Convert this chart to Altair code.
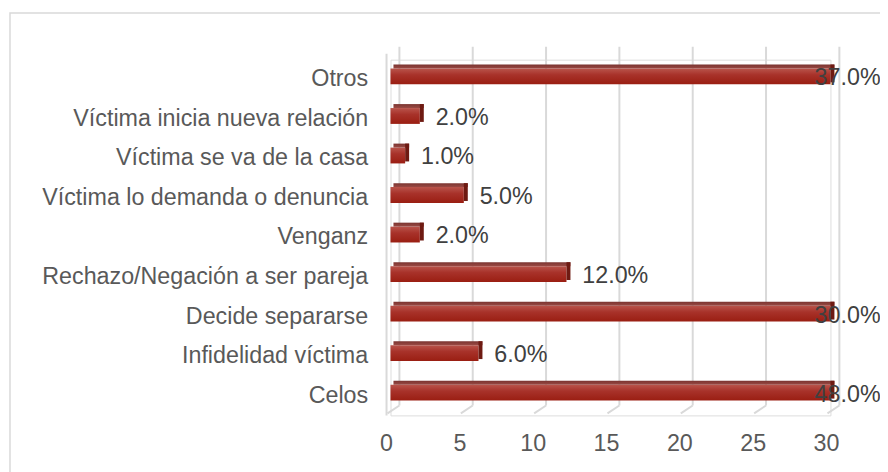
import altair as alt
import pandas as pd

categories = [
    "Otros",
    "Víctima inicia nueva relación",
    "Víctima se va de la casa",
    "Víctima lo demanda o denuncia",
    "Venganz",
    "Rechazo/Negación a ser pareja",
    "Decide separarse",
    "Infidelidad víctima",
    "Celos",
]
values = [37, 2, 1, 5, 2, 12, 30, 6, 48]
ticks = [0, 5, 10, 15, 20, 25, 30]

df = pd.DataFrame({"cat": categories, "value": values})
tick_df = pd.DataFrame({"t": ticks})
one = pd.DataFrame({"a": [1]})

FONT = "Liberation Sans"
X_MAX = 30
FS = 23.5

xscale = alt.Scale(domain=[0, X_MAX], nice=False, zero=True)
yscale = alt.Scale(domain=categories, paddingInner=0, paddingOuter=0)

xaxis = alt.Axis(
    values=ticks, domain=False, ticks=False, grid=False,
    labelPadding=16, labelFontSize=FS, labelFont=FONT, labelFlush=False,
    labelColor="#595959", labelOffset=-4.5, title=None,
)
yaxis = alt.Axis(
    domain=False, ticks=False, grid=False, labelPadding=23, labelFontSize=FS,
    labelFont=FONT, labelColor="#595959", labelLimit=400, title=None,
)


def X(field):
    return alt.X(field, scale=xscale, axis=xaxis, title=None)


def Y():
    return alt.Y("cat:N", scale=yscale, sort=categories, axis=yaxis, title=None)


border = alt.Chart(one).mark_rect(
    fillOpacity=0, stroke="#d9d9d9", strokeWidth=1.5
).encode(
    x=alt.value(-384), x2=alt.value(520), y=alt.value(-47), y2=alt.value(440)
)

grid = alt.Chart(tick_df).mark_rule(color="#d9d9d9", strokeWidth=2, xOffset=9).encode(
    x=X("t:Q"),
    y=alt.value(-13), y2=alt.value(349),
)

floor = alt.Chart(tick_df).mark_point(
    shape="M -1 0.667 L 1 -0.667", size=144, stroke="#d9d9d9", strokeWidth=2,
    filled=False, opacity=1, xOffset=3,
).encode(
    x=X("t:Q"),
    y=alt.value(353),
)

leftwall = alt.Chart(one).mark_rule(color="#d9d9d9", strokeWidth=2).encode(
    x=alt.value(-4), y=alt.value(-6), y2=alt.value(359)
)

base = alt.Chart(df).transform_calculate(
    v=f"min(datum.value, {X_MAX})",
    label="format(datum.value, '.1f') + '%'",
)

front_grad = alt.Gradient(
    gradient="linear", x1=0, x2=0, y1=0, y2=1,
    stops=[
        alt.GradientStop(color="#b9544b", offset=0),
        alt.GradientStop(color="#a8322a", offset=0.4),
        alt.GradientStop(color="#9a1e12", offset=1),
    ],
)
top_grad = alt.Gradient(
    gradient="linear", x1=0, x2=0, y1=0, y2=1,
    stops=[
        alt.GradientStop(color="#7a3430", offset=0),
        alt.GradientStop(color="#9a4a44", offset=1),
    ],
)

front = base.mark_bar(size=16, yOffset=-3, color=front_grad).encode(
    y=Y(),
    x=X("v:Q"),
    x2=alt.datum(0),
)

top = base.mark_bar(size=4, yOffset=-13, xOffset=4, x2Offset=3, color=top_grad).encode(
    y=Y(),
    x=X("v:Q"),
    x2=alt.datum(0),
)

side = base.mark_bar(size=18, yOffset=-6, x2Offset=4, color="#6e1a12").encode(
    y=Y(),
    x=X("v:Q"),
    x2=alt.X2("v:Q"),
)

label_in = base.transform_filter(f"datum.value < {X_MAX}").mark_text(
    align="left", baseline="middle", dx=16, dy=-1, fontSize=FS, font=FONT, color="#404040"
).encode(
    y=Y(),
    x=X("v:Q"),
    text="label:N",
)

label_out = base.transform_filter(f"datum.value >= {X_MAX}").mark_text(
    align="left", baseline="middle", dx=-16, dy=-1, fontSize=FS, font=FONT, color="#404040"
).encode(
    y=Y(),
    x=X("v:Q"),
    text="label:N",
)

chart = alt.layer(
    border, grid, floor, leftwall, front, top, side, label_in, label_out
).properties(
    width=444, height=359,
    autosize=alt.AutoSizeParams(type="none"),
    padding={"left": 386, "top": 50, "right": 50, "bottom": 55},
).configure_view(stroke=None).configure(background="white")

chart.save("out.html", embed_options={"renderer": "svg", "actions": False})
